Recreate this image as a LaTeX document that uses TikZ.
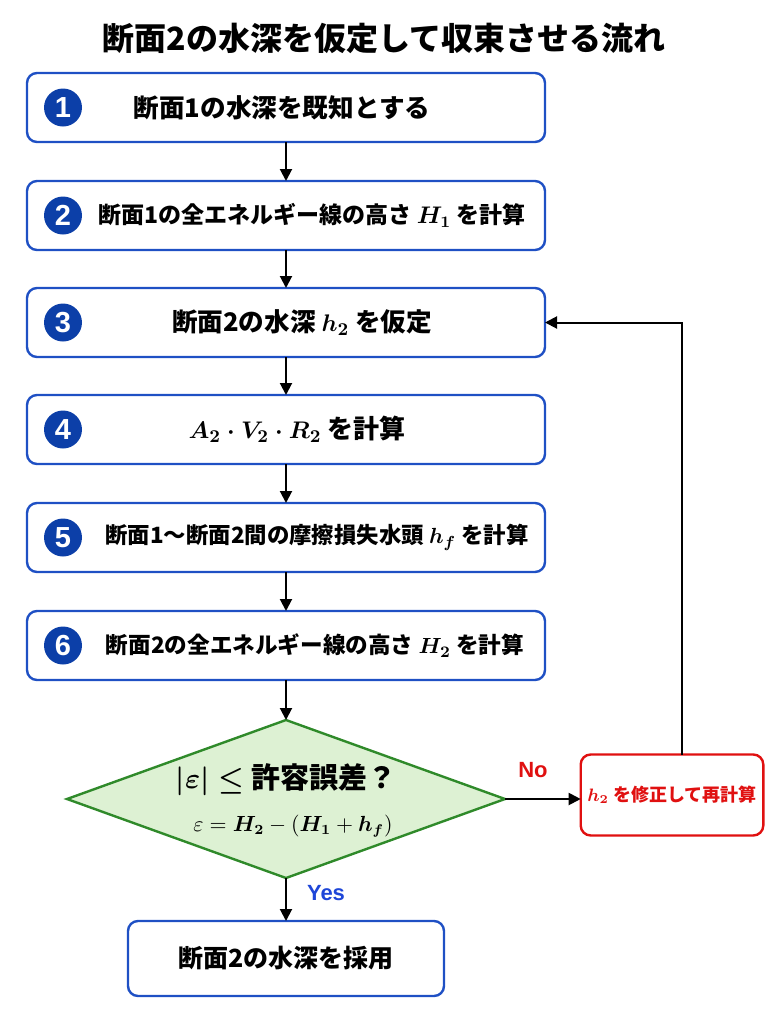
\documentclass[tikz,border=0pt]{standalone}
\usepackage{amsmath}
\usepackage{fontspec}
\setmainfont{Noto Sans CJK JP}
\newfontfamily\numfont{Liberation Sans}
\usepackage{tikz}
\usetikzlibrary{positioning, shapes.geometric, arrows.meta}

\definecolor{stepblue}{HTML}{1F50C4}
\definecolor{numblue}{HTML}{0C3FA8}
\definecolor{checkfill}{HTML}{DDF1D3}
\definecolor{checkline}{HTML}{2F8A2A}
\definecolor{fixred}{HTML}{E01010}
\definecolor{yesblue}{HTML}{1E46D8}

\begin{document}
\begin{tikzpicture}[x = 0.5pt, y = -0.5pt,
    every node/.style = { font = \bfseries\boldmath },
    stepbox/.style = { draw = stepblue, line width = 1.2pt, rounded corners = 5pt, outer sep = 0pt,
                       minimum width = 259pt, minimum height = 34.5pt },
    numdot/.style = { circle, fill = numblue, text = white, inner sep = 0pt,
                      minimum size = 19pt, font = \numfont\bfseries\fontsize{14.5}{14.5}\selectfont },
    steptext/.style = { font = \bfseries\boldmath\fontsize{#1}{14}\selectfont },
    flow/.style = { -{Triangle[length = 6pt, width = 6pt]}, line width = 1pt }
  ]
  \useasboundingbox (0,0) rectangle (768,1024);

  \node (title) at (384,38) [font = \bfseries\fontsize{16}{18}\selectfont]
    {断面2の水深を仮定して収束させる流れ};

  % steps
  \node (s1) at (286,107.5) [stepbox] {};
  \node (s2) [stepbox, below = 19.5pt of s1] {};
  \node (s3) [stepbox, below = 19pt of s2] {};
  \node (s4) [stepbox, below = 19pt of s3] {};
  \node (s5) [stepbox, below = 19.5pt of s4] {};
  \node (s6) [stepbox, below = 19.5pt of s5] {};

  \foreach \i in {1,...,6}
    \node (n\i) [numdot, xshift = 18pt] at (s\i.west) {\i};

  \node (t1) [steptext = 12.8, xshift = -2pt]  at (s1) {断面1の水深を既知とする};
  \node (t2) [steptext = 11.5, xshift = 13pt]  at (s2) {断面1の全エネルギー線の高さ $H_1$ を計算};
  \node (t3) [steptext = 12.8, xshift = 8pt]   at (s3) {断面2の水深 $h_2$ を仮定};
  \node (t4) [steptext = 13, xshift = 5.5pt] at (s4) {$A_2\cdot V_2\cdot R_2$ を計算};
  \node (t5) [steptext = 11.2, xshift = 15.5pt] at (s5) {断面1〜断面2間の摩擦損失水頭 $h_f$ を計算};
  \node (t6) [steptext = 11.3, xshift = 14.5pt] at (s6) {断面2の全エネルギー線の高さ $H_2$ を計算};

  % check
  \node (check) [diamond, draw = checkline, fill = checkfill, line width = 1.2pt, outer sep = 0pt,
                 inner sep = 0pt, minimum width = 219pt, minimum height = 79pt,
                 below = 20pt of s6] {};
  \node (q1) [font = \bfseries\boldmath\fontsize{14.5}{16}\selectfont, yshift = 9.5pt] at (check)
    {$|\varepsilon|\leq$ 許容誤差？};
  \node (q2) [font = \fontsize{10.5}{12}\selectfont, xshift = 3.5pt, yshift = -13.5pt] at (check)
    {$\varepsilon = \boldsymbol{H_2} - (\boldsymbol{H_1} + \boldsymbol{h_f})$};

  \node (fix) at (672,795) [draw = fixred, line width = 1.2pt, rounded corners = 5pt, outer sep = 0pt,
                 minimum width = 91pt, minimum height = 40.5pt, text = fixred,
                 font = \bfseries\boldmath\fontsize{9}{11}\selectfont]
    {$h_2$ を修正して再計算};

  \node (done) [stepbox, minimum width = 158pt, minimum height = 37.5pt,
                font = \bfseries\fontsize{12.5}{14}\selectfont, below = 21.5pt of check]
    {断面2の水深を採用};

  \node (no)  at (533,770) [text = fixred, font = \numfont\bfseries\fontsize{11}{12}\selectfont] {No};
  \node (yes) at (326,893) [text = yesblue, font = \numfont\bfseries\fontsize{11}{12}\selectfont] {Yes};

  \draw [flow] (s1) -- (s2);
  \draw [flow] (s2) -- (s3);
  \draw [flow] (s3) -- (s4);
  \draw [flow] (s4) -- (s5);
  \draw [flow] (s5) -- (s6);
  \draw [flow] (s6) -- (check);
  \draw [flow] (check.east) -- (fix.west |- check.east);
  \draw [flow] ([xshift = 5pt]fix.north) |- (s3.east);
  \draw [flow] (check.south) -- (done.north);
\end{tikzpicture}
\end{document}
